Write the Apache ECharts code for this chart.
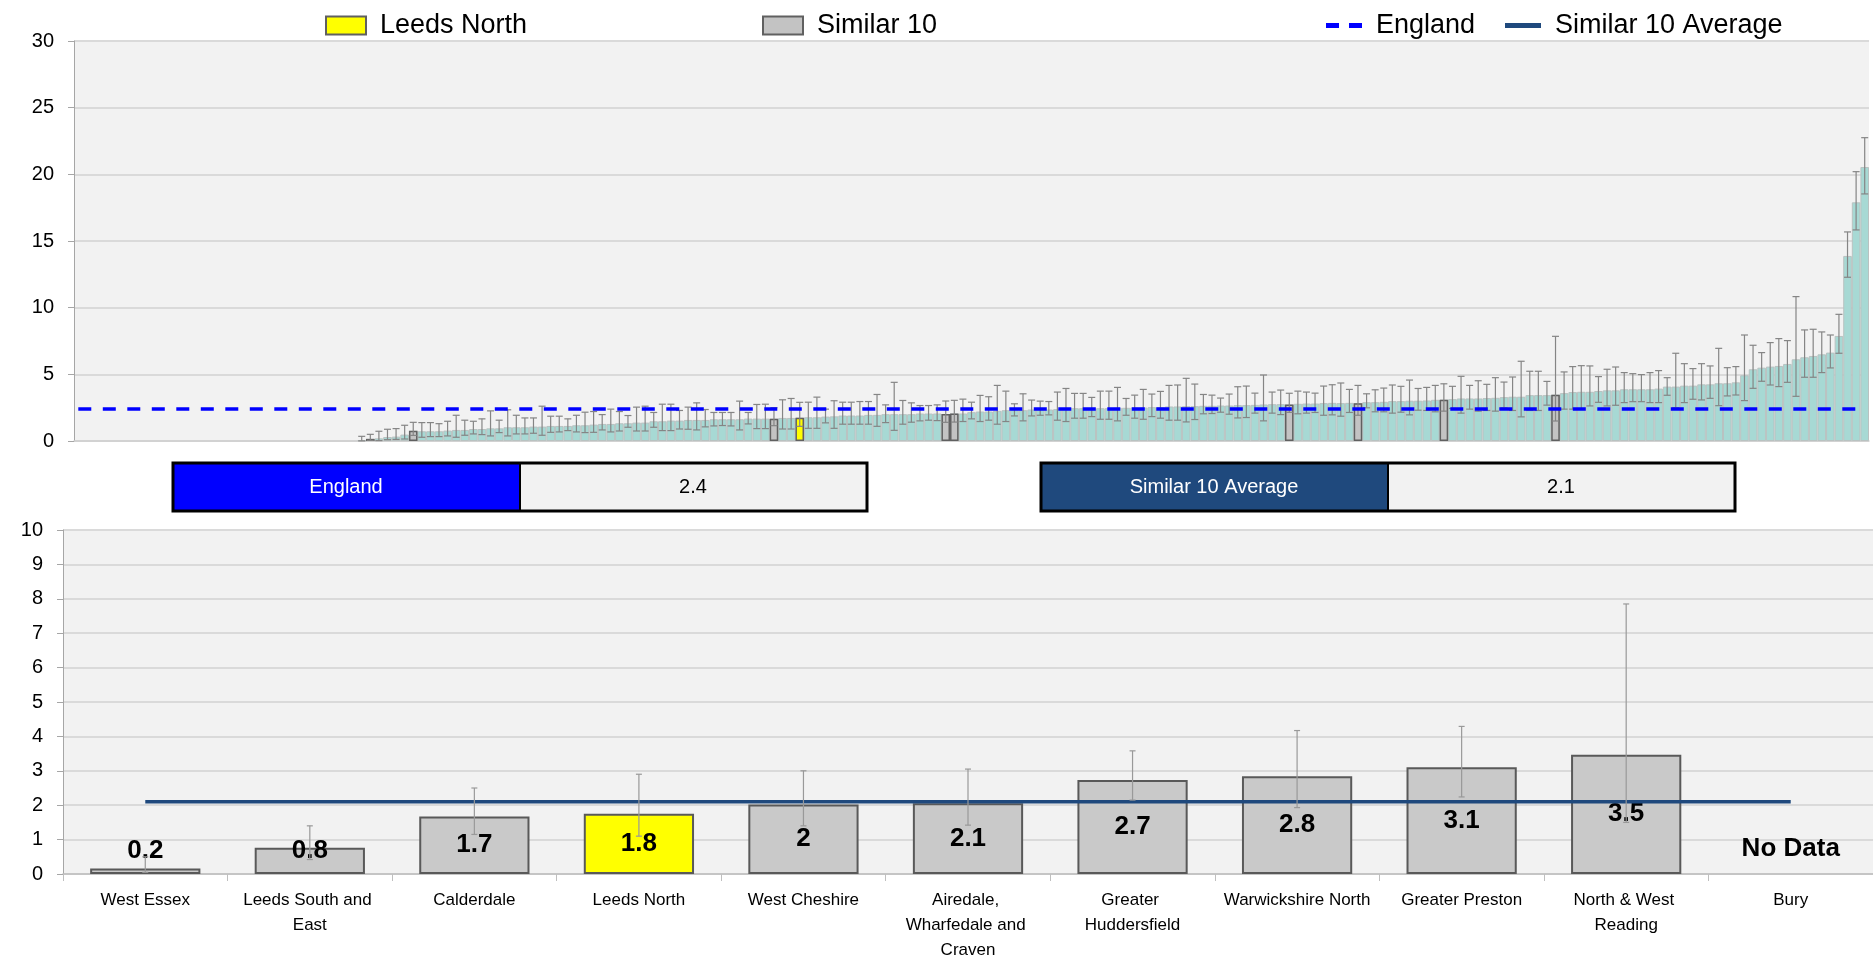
<!DOCTYPE html>
<html>
<head>
<meta charset="utf-8">
<title>Leeds North - Similar 10</title>
<script src="https://cdn.jsdelivr.net/npm/echarts@6/dist/echarts.min.js"></script>
<style>
  html, body { margin: 0; padding: 0; background: #ffffff; }
  #main { width: 1873px; height: 963px; }
</style>
</head>
<body>
<div id="main"></div>
<script>
// --- data ---

// top chart: all areas, sorted by value (first 33 have no bar)
var allValues = [
  null,null,null,null,null,null,null,null,null,null,null,null,null,null,null,null,null,null,null,null,
  null,null,null,null,null,null,null,null,null,null,null,null,null,
  0.07,0.16,0.2,0.3,0.33,0.48,0.76,0.73,0.73,0.73,0.78,0.83,0.83,0.9,0.9,0.95,0.95,1.03,1.03,1.03,
  1.08,1.08,1.13,1.13,1.13,1.18,1.18,1.23,1.28,1.28,1.33,1.33,1.38,1.38,1.48,1.48,1.53,1.53,1.58,1.58,
  1.58,1.63,1.63,1.63,1.63,1.68,1.68,1.68,1.67,1.73,1.73,1.75,1.78,1.78,1.83,1.85,1.91,1.91,1.91,1.96,
  1.96,2.01,2.01,2.01,2.01,2.06,2.06,2.06,2.02,2.06,2.06,2.16,2.21,2.21,2.26,2.31,2.31,2.31,2.36,2.36,
  2.36,2.39,2.41,2.46,2.46,2.46,2.46,2.46,2.49,2.49,2.51,2.51,2.54,2.54,2.59,2.59,2.61,2.61,2.64,2.64,
  2.66,2.66,2.69,2.69,2.71,2.74,2.76,2.76,2.73,2.79,2.81,2.81,2.84,2.86,2.84,2.86,2.84,2.91,2.91,2.94,
  2.99,2.99,3.02,3.02,3.04,3.09,3.1,3.14,3.19,3.19,3.19,3.22,3.24,3.29,3.32,3.32,3.44,3.44,3.44,3.47,
  3.59,3.67,3.69,3.69,3.75,3.8,3.8,3.88,3.88,3.88,3.88,3.93,4.08,4.08,4.15,4.15,4.25,4.25,4.33,4.33,
  4.4,4.93,5.38,5.5,5.58,5.63,5.78,6.13,6.28,6.38,6.5,6.63,7.88,13.88,17.9,20.55
];
var allLow = [
  null,null,null,null,null,null,null,null,null,null,null,null,null,null,null,null,null,null,null,null,
  null,null,null,null,null,null,null,null,null,null,null,null,null,
  0.01,0.05,0.03,0.1,0.12,0.15,0.42,0.28,0.33,0.33,0.38,0.28,0.43,0.53,0.48,0.38,0.63,0.38,0.53,0.53,
  0.58,0.43,0.65,0.68,0.78,0.68,0.63,0.65,0.83,0.68,0.75,1.03,0.75,0.75,1.03,0.78,0.78,0.9,0.88,0.83,
  1.06,1.13,1.16,1.13,0.83,1.28,0.93,0.93,1.15,0.9,0.9,1.1,0.95,0.95,1.36,0.95,1.26,1.26,1.26,1.26,
  1.1,1.38,0.8,1.26,1.41,1.51,1.56,1.53,1.4,1.42,1.46,1.66,1.46,1.56,1.26,1.46,1.88,1.51,1.88,1.93,
  1.96,1.56,1.46,1.71,1.71,1.83,1.63,1.63,1.51,1.93,1.71,1.63,1.83,1.71,1.56,1.56,1.43,1.61,2.04,2.06,
  2.16,2.01,1.73,1.76,2.09,1.51,2.09,1.98,2.15,2.04,2.09,2.14,1.93,1.96,1.86,2.14,1.93,2.49,2.19,2.19,
  2.09,2.16,1.96,2.31,2.29,2.19,2.24,2.44,2.09,2.39,2.24,2.29,2.24,2.49,2.29,1.81,2.29,2.29,2.69,1.5,
  2.39,2.39,2.39,2.63,2.9,2.63,2.68,2.88,2.95,2.95,2.88,2.88,3.43,2.5,2.88,3.13,3.08,3.2,2.65,3.38,
  3.45,3.03,3.95,4.48,4.2,4.08,4.4,3.35,4.78,4.78,5.13,5.48,6.58,12.28,15.83,18.53
];
var allHigh = [
  null,null,null,null,null,null,null,null,null,null,null,null,null,null,null,null,null,null,null,null,
  null,null,null,null,null,null,null,null,null,null,null,null,null,
  0.35,0.5,0.73,0.88,0.93,1.18,1.4,1.38,1.38,1.3,1.48,1.93,1.56,1.48,1.66,2.26,1.56,2.34,1.93,1.73,
  1.73,2.61,1.86,1.86,1.66,1.93,2.16,2.21,1.98,2.39,2.21,1.91,2.54,2.61,2.14,2.76,2.76,2.29,2.54,2.86,
  2.36,2.14,2.14,2.14,2.99,2.14,2.74,2.76,2.5,3.09,3.19,2.9,2.91,3.29,2.39,3.02,2.91,2.91,2.96,2.96,
  3.49,2.71,4.4,3.04,2.86,2.66,2.66,2.71,3.0,3.05,3.14,2.91,3.42,3.32,4.17,3.74,2.79,3.54,3.07,2.99,
  2.96,3.67,3.94,3.57,3.57,3.27,3.74,3.74,4.02,3.19,3.44,3.87,3.52,3.72,4.17,4.2,4.7,4.27,3.49,3.44,
  3.22,3.52,4.07,4.12,3.59,4.95,3.67,3.82,3.58,3.74,3.67,3.59,4.12,4.22,4.35,3.87,4.17,3.54,3.84,3.97,
  4.2,4.1,4.57,3.94,4.02,4.17,4.29,4.1,4.85,4.17,4.52,4.25,4.75,4.42,4.8,5.98,5.23,5.23,4.47,7.85,
  5.18,5.58,5.65,5.63,4.83,5.38,5.55,5.13,5.05,4.98,5.13,5.28,4.75,6.58,5.8,5.43,5.8,5.63,6.95,5.5,
  5.58,7.95,7.18,6.63,7.38,7.68,7.53,10.83,8.33,8.38,8.18,7.95,9.5,15.68,20.2,22.75
];
// positions of the similar 10 areas in the top chart (Leeds North is the 4th)
var similarTopIdx = [34, 39, 81, 84, 101, 102, 141, 149, 159, 172];

// bottom chart: similar 10
var similarNames = ['West Essex', 'Leeds South and East', 'Calderdale', 'Leeds North', 'West Cheshire',
  'Airedale, Wharfedale and Craven', 'Greater Huddersfield', 'Warwickshire North', 'Greater Preston',
  'North & West Reading', 'Bury'];
var similarValues = [0.16, 0.76, 1.67, 1.75, 2.02, 2.06, 2.73, 2.84, 3.1, 3.47, null];
var similarLow    = [0.05, 0.42, 1.15, 1.1, 1.4, 1.42, 2.15, 1.93, 2.24, 1.5, null];
var similarHigh   = [0.5, 1.4, 2.5, 2.9, 3.0, 3.05, 3.58, 4.17, 4.29, 7.85, null];

var englandValue = 2.4;
var similarAvg = 2.1;
var localName = 'Leeds North';

// --- build options ---
var fontFam = "'Liberation Sans', Arial, sans-serif";
var categories = allValues.map(function (v, i) { return 'Area ' + (i + 1); });
var leedsIdx = similarTopIdx[similarNames.indexOf(localName)];

var topSimilar = allValues.map(function (v, i) {
  return (similarTopIdx.indexOf(i) >= 0 && i !== leedsIdx) ? v : null;
});
var topLocal = allValues.map(function (v, i) { return i === leedsIdx ? v : null; });
var topErr = [];
allValues.forEach(function (v, i) {
  if (v != null) topErr.push([i, allLow[i], allHigh[i]]);
});
var englandLine = categories.map(function () { return englandValue; });
var avgLine = similarNames.map(function () { return similarAvg; });
var bottomErr = similarNames.map(function (n, i) { return [i, similarLow[i], similarHigh[i]]; });

var bottomBars = similarValues.map(function (v, i) {
  var item = { value: v };
  if (similarNames[i] === localName) item.itemStyle = { color: '#ffff00' };
  if (v != null && v < 1) item.label = { position: 'insideBottom', distance: 10 };
  return item;
});

function errBars(capHalf, color) {
  return function (params, api) {
    var x = api.value(0), lo = api.value(1), hi = api.value(2);
    if (isNaN(lo) || isNaN(hi)) {
      if (capHalf > 3) return null;
      var p0 = api.coord([x, 0]);
      return {
        type: 'text',
        style: { text: 'No Data', x: p0[0], y: p0[1] - 25, align: 'center', verticalAlign: 'middle',
          font: 'bold 26px ' + fontFam, fill: '#000' }
      };
    }
    var a = api.coord([x, lo]), b = api.coord([x, hi]);
    var st = { stroke: color, lineWidth: 1.2 };
    return {
      type: 'group',
      children: [
        { type: 'line', shape: { x1: a[0], y1: a[1], x2: b[0], y2: b[1] }, style: st },
        { type: 'line', shape: { x1: b[0] - capHalf, y1: b[1], x2: b[0] + capHalf, y2: b[1] }, style: st },
        { type: 'line', shape: { x1: a[0] - capHalf, y1: a[1], x2: a[0] + capHalf, y2: a[1] }, style: st }
      ]
    };
  };
}

var chart = echarts.init(document.getElementById('main'), null, { renderer: 'canvas' });

var legendBase = {
  orient: 'horizontal', top: 12, padding: 0, itemWidth: 40, itemHeight: 18,
  selectedMode: false,
  textStyle: { fontSize: 27, color: '#000', fontFamily: fontFam, padding: [0, 0, 0, 9] }
};
function mkLegend(item, left, extra) {
  var l = Object.assign({}, legendBase, { data: [item], left: left });
  return Object.assign(l, extra || {});
}

var option = {
  animation: false,
  backgroundColor: '#ffffff',
  textStyle: { fontFamily: fontFam },
  legend: [
    mkLegend({ name: 'Leeds North', icon: 'rect' }, 325),
    mkLegend({ name: 'Similar 10', icon: 'rect' }, 762),
    mkLegend({ name: 'England', icon: 'path://M0,0H13V5H0Z M23,0H36V5H23Z' }, 1326,
      { itemWidth: 36, itemHeight: 5, top: 12 }),
    mkLegend({ name: 'Similar 10 Average', icon: 'rect' }, 1505,
      { itemWidth: 36, itemHeight: 5, top: 12 })
  ],
  grid: [
    { left: 74, top: 41, width: 1795, height: 400, show: true, backgroundColor: '#f2f2f2', borderWidth: 0 },
    { left: 63, top: 530, width: 1814, height: 348, show: true, backgroundColor: '#f2f2f2', borderWidth: 0 }
  ],
  xAxis: [
    {
      gridIndex: 0, type: 'category', data: categories,
      axisLine: { lineStyle: { color: '#d0d0d0', width: 1.5 } },
      axisTick: { show: false }, axisLabel: { show: false }, splitLine: { show: false }
    },
    {
      gridIndex: 1, type: 'category', data: similarNames,
      axisLine: { lineStyle: { color: '#bfbfbf', width: 1.5 } },
      axisTick: { show: true, length: 7, interval: 0, lineStyle: { color: '#bfbfbf' } },
      axisLabel: { interval: 0, margin: 14, fontSize: 17, color: '#000', lineHeight: 25,
        width: 152, overflow: 'break', fontFamily: fontFam }
    }
  ],
  yAxis: [
    {
      gridIndex: 0, type: 'value', min: 0, max: 30, interval: 5,
      axisLine: { show: true, lineStyle: { color: '#a6a6a6' } },
      axisTick: { show: true, length: 6, lineStyle: { color: '#a6a6a6' } },
      axisLabel: { fontSize: 20, color: '#000', margin: 20 },
      splitLine: { lineStyle: { color: '#dadada', width: 2 } }
    },
    {
      gridIndex: 1, type: 'value', min: 0, max: 10, interval: 1,
      axisLine: { show: true, lineStyle: { color: '#a6a6a6' } },
      axisTick: { show: true, length: 6, lineStyle: { color: '#a6a6a6' } },
      axisLabel: { fontSize: 20, color: '#000', margin: 20 },
      splitLine: { lineStyle: { color: '#dadada', width: 2 } }
    }
  ],
  series: [
    {
      name: 'All', type: 'bar', xAxisIndex: 0, yAxisIndex: 0, data: allValues,
      barWidth: '100%', barGap: '-100%',
      itemStyle: { color: '#a7d9d4', borderColor: '#b9c2c1', borderWidth: 1 },
      z: 2
    },
    {
      name: 'Similar 10', type: 'bar', xAxisIndex: 0, yAxisIndex: 0, data: topSimilar,
      barWidth: '100%', barGap: '-100%',
      itemStyle: { color: '#c3c3c3', borderColor: '#606060', borderWidth: 1.5 },
      z: 3
    },
    {
      name: 'Leeds North', type: 'bar', xAxisIndex: 0, yAxisIndex: 0, data: topLocal,
      barWidth: '100%', barGap: '-100%',
      itemStyle: { color: '#ffff00', borderColor: '#606060', borderWidth: 1.5 },
      z: 3
    },
    {
      name: 'topErr', type: 'custom', xAxisIndex: 0, yAxisIndex: 0, data: topErr,
      renderItem: errBars(3.5, '#858585'), z: 4
    },
    {
      name: 'England', type: 'line', xAxisIndex: 0, yAxisIndex: 0, data: englandLine,
      symbol: 'none', lineStyle: { color: '#0000ff', width: 3.5, type: [13, 11.5] },
      itemStyle: { color: '#0000ff' }, z: 5
    },
    {
      name: 'similarBars', type: 'bar', xAxisIndex: 1, yAxisIndex: 1, data: bottomBars,
      barWidth: '67%',
      itemStyle: { color: '#c9c9c9', borderColor: '#595959', borderWidth: 2 },
      label: {
        show: true, position: 'inside', fontSize: 26, fontWeight: 'bold', color: '#000',
        formatter: function (p) { return String(Math.round(p.value * 10) / 10); }
      },
      z: 2
    },
    {
      name: 'Similar 10 Average', type: 'line', xAxisIndex: 1, yAxisIndex: 1, data: avgLine,
      symbol: 'none', lineStyle: { color: '#1f497d', width: 3.5 },
      itemStyle: { color: '#1f497d' }, z: 4
    },
    {
      name: 'bottomErr', type: 'custom', xAxisIndex: 1, yAxisIndex: 1, data: bottomErr,
      renderItem: errBars(3, '#999999'), z: 5
    }
  ],
  graphic: [
    { type: 'rect', shape: { x: 173, y: 463, width: 347, height: 48 }, style: { fill: '#0000ff' } },
    { type: 'rect', shape: { x: 520, y: 463, width: 347, height: 48 }, style: { fill: '#f2f2f2' } },
    { type: 'rect', shape: { x: 173, y: 463, width: 694, height: 48 }, style: { fill: 'none', stroke: '#000', lineWidth: 3 } },
    { type: 'line', shape: { x1: 520, y1: 463, x2: 520, y2: 511 }, style: { stroke: '#000', lineWidth: 2 } },
    { type: 'text', style: { text: 'England', x: 346, y: 487, align: 'center', verticalAlign: 'middle', font: '20px ' + fontFam, fill: '#fff' } },
    { type: 'text', style: { text: String(englandValue), x: 693, y: 487, align: 'center', verticalAlign: 'middle', font: '20px ' + fontFam, fill: '#000' } },

    { type: 'rect', shape: { x: 1041, y: 463, width: 347, height: 48 }, style: { fill: '#1f497d' } },
    { type: 'rect', shape: { x: 1388, y: 463, width: 347, height: 48 }, style: { fill: '#f2f2f2' } },
    { type: 'rect', shape: { x: 1041, y: 463, width: 694, height: 48 }, style: { fill: 'none', stroke: '#000', lineWidth: 3 } },
    { type: 'line', shape: { x1: 1388, y1: 463, x2: 1388, y2: 511 }, style: { stroke: '#000', lineWidth: 2 } },
    { type: 'text', style: { text: 'Similar 10 Average', x: 1214, y: 487, align: 'center', verticalAlign: 'middle', font: '20px ' + fontFam, fill: '#fff' } },
    { type: 'text', style: { text: String(similarAvg), x: 1561, y: 487, align: 'center', verticalAlign: 'middle', font: '20px ' + fontFam, fill: '#000' } }
  ]
};

chart.setOption(option);
</script>
</body>
</html>
